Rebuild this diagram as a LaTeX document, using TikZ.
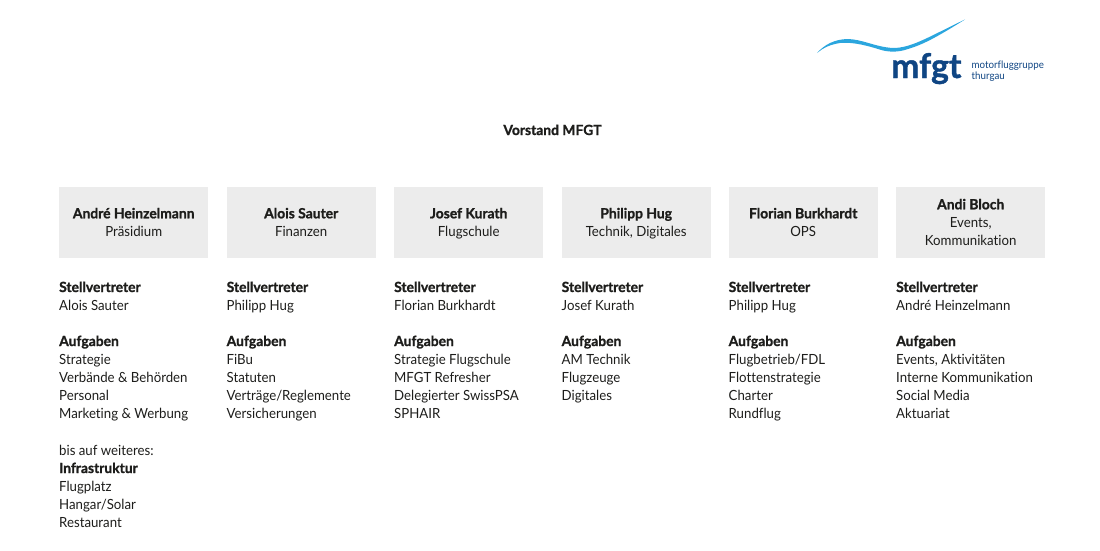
\documentclass[tikz,border=0pt]{standalone}
\usepackage{fontspec}
\setmainfont{Lato}[FakeStretch=0.945,Ligatures=NoCommon,BoldFeatures={FakeStretch=0.99,FakeBold=1.2}]
\definecolor{boxgrey}{HTML}{ECECEC}
\definecolor{txt}{HTML}{1D1D1B}
\definecolor{logoblue}{HTML}{0F4583}
\definecolor{wave}{HTML}{2BA6DE}
\newcommand{\topstrut}{\rule{0pt}{14.6pt}}
\tikzset{
 boxn/.style={fill=boxgrey,minimum width=149pt,minimum height=71pt,anchor=north west,inner sep=0pt,align=center,text=txt,font=\fontsize{14}{18}\selectfont},
 line/.style={anchor=base west,inner sep=0pt,text=txt,font=\fontsize{14}{18}\selectfont},
 head/.style={line,font=\fontsize{14}{18}\selectfont\bfseries},
 title/.style={anchor=base,inner sep=0pt,text=txt,font=\fontsize{14}{18}\selectfont\bfseries},
 logobig/.style={anchor=base west,inner sep=0pt,text=logoblue,font=\fontsize{34}{36}\selectfont\bfseries},
 logosmall/.style={anchor=base west,inner sep=0pt,text=logoblue,font=\fontsize{10.3}{12}\selectfont},
}
\newcommand{\col}[8]{%
 \node[boxn] (#1box) at (#2,187) {#3};
 \node[head] (#1h1) at (#2,292) {Stellvertreter};
 \node[line] (#1d) at (#2,310) {#4};
 \node[head] (#1h2) at (#2,346) {Aufgaben};
 \node[line] (#1a) at (#2,364) {#5};
 \node[line] (#1b) at (#2,382) {#6};
 \node[line] (#1c) at (#2,400) {#7};
 \node[line] (#1e) at (#2,418) {#8};
}
\begin{document}
\begin{tikzpicture}[x=1pt,y=-1pt]
\useasboundingbox (0,0) rectangle (1100,550);
\node[title] (title) at (552.5,135) {Vorstand MFGT};
\col{a}{59}{\topstrut\textbf{André Heinzelmann}\\\strut Präsidium}{Alois Sauter}{Strategie}{Verbände \& Behörden}{Personal}{Marketing \& Werbung}
\col{b}{226.5}{\topstrut\textbf{Alois Sauter}\\\strut Finanzen}{Philipp Hug}{FiBu}{Statuten}{Verträge/Reglemente}{Versicherungen}
\col{c}{394}{\topstrut\textbf{Josef Kurath}\\\strut Flugschule}{Florian Burkhardt}{Strategie Flugschule}{MFGT Refresher}{Delegierter SwissPSA}{SPHAIR}
\col{d}{561.5}{\topstrut\textbf{Philipp Hug}\\\strut Technik, Digitales}{Josef Kurath}{AM Technik}{Flugzeuge}{Digitales}{}
\col{e}{728.5}{\topstrut\textbf{Florian Burkhardt}\\\strut OPS}{Philipp Hug}{Flugbetrieb/FDL}{Flottenstrategie}{Charter}{Rundflug}
\col{f}{896}{\topstrut\textbf{Andi Bloch}\\\strut Events,\\\strut Kommunikation}{André Heinzelmann}{Events, Aktivitäten}{Interne Kommunikation}{Social Media}{Aktuariat}
\node[line] (x1) at (59,455) {bis auf weiteres:};
\node[head] (x2) at (59,473) {Infrastruktur};
\node[line] (x3) at (59,491) {Flugplatz};
\node[line] (x4) at (59,509) {Hangar/Solar};
\node[line] (x5) at (59,527) {Restaurant};
% logo
\fill[wave] (817,53) .. controls (825,44) and (835,39.5) .. (847,39) .. controls (862,39) and (875,47) .. (893,48) .. controls (912,48) and (930,36) .. (965,19.5) .. controls (940,35) and (925,44) .. (908,49) .. controls (898,52.5) and (888,52.5) .. (878,49) .. controls (862,44) and (850,42) .. (840,43) .. controls (830,44.5) and (823,48) .. (817,53) -- cycle;
\node[logobig] (mfgt) at (891,78) {mfgt};
\node[logosmall] (l1) at (971.5,68) {motorfluggruppe};
\node[logosmall] (l2) at (971.5,79) {thurgau};
\end{tikzpicture}
\end{document}
